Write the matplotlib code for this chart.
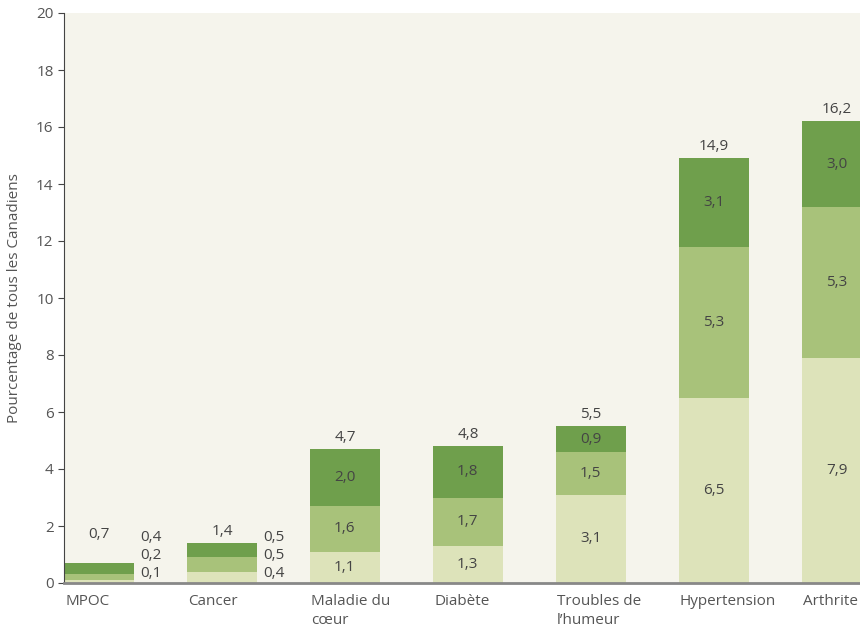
import matplotlib.pyplot as plt
import numpy as np

plt.rcParams['font.family'] = ['Open Sans', 'DejaVu Sans']

# Data
categories = ["MPOC", "Cancer", "Maladie du\ncœur", "Diabète", "Troubles de\nl’humeur",
              "Hypertension", "Arthrite"]
low = [0.1, 0.4, 1.1, 1.3, 3.1, 6.5, 7.9]
mid = [0.2, 0.5, 1.6, 1.7, 1.5, 5.3, 5.3]
high = [0.4, 0.5, 2.0, 1.8, 0.9, 3.1, 3.0]
totals = [0.7, 1.4, 4.7, 4.8, 5.5, 14.9, 16.2]

c_low = "#dde3ba"
c_mid = "#a8c27a"
c_high = "#6f9f4c"
txt = "#444444"

def fr(v):
    return f"{v:.1f}".replace(".", ",")

fig = plt.figure(figsize=(8.6, 6.28), dpi=100)
ax = fig.add_axes([64 / 860, 45 / 628, 796 / 860, 570 / 628])
ax.set_facecolor("#f5f4ec")

x = np.arange(len(categories))
w = 0.57
low = np.array(low)
mid = np.array(mid)
high = np.array(high)

ax.bar(x, low, w, color=c_low)
ax.bar(x, mid, w, bottom=low, color=c_mid)
ax.bar(x, high, w, bottom=low + mid, color=c_high)

# Segment labels
for i in range(len(x)):
    top = low[i] + mid[i] + high[i]
    if totals[i] < 2:
        # small bars: labels stacked to the right of the bar
        for v, yy in zip([low[i], mid[i], high[i]], [0.35, 0.98, 1.61]):
            ax.text(x[i] + w / 2 + 0.05, yy, fr(v), ha="left", va="center",
                    fontsize=11, color=txt)
        top = max(top, 1.3)
    else:
        ax.text(x[i], low[i] / 2, fr(low[i]), ha="center", va="center", fontsize=11, color=txt)
        ax.text(x[i], low[i] + mid[i] / 2, fr(mid[i]), ha="center", va="center",
                fontsize=11, color=txt)
        ax.text(x[i], low[i] + mid[i] + high[i] / 2, fr(high[i]), ha="center", va="center",
                fontsize=11, color=txt)
    ax.annotate(fr(totals[i]), (x[i], top), xytext=(0, 3), textcoords="offset points",
                ha="center", va="bottom", fontsize=11, color=txt)

ax.set_xlim(-w / 2, 6.19)
ax.set_ylim(0, 20)
ax.set_yticks(range(0, 21, 2))
ax.tick_params(axis="y", labelsize=11, labelcolor="#555555", length=4, color="#444444")
ax.set_xticks([])

for i, c in enumerate(categories):
    ax.text(x[i] - w / 2 + 0.01, -0.4, c, ha="left", va="top", fontsize=11,
            color="#555555", linespacing=1.35)

ax.spines["top"].set_visible(False)
ax.spines["right"].set_visible(False)
ax.spines["left"].set_color("#444444")
ax.spines["bottom"].set_color("#888888")
ax.spines["bottom"].set_linewidth(2)

ax.set_ylabel("Pourcentage de tous les Canadiens", fontsize=11, color="#555555", labelpad=10)

plt.savefig("out.png", dpi=100)
plt.close()
